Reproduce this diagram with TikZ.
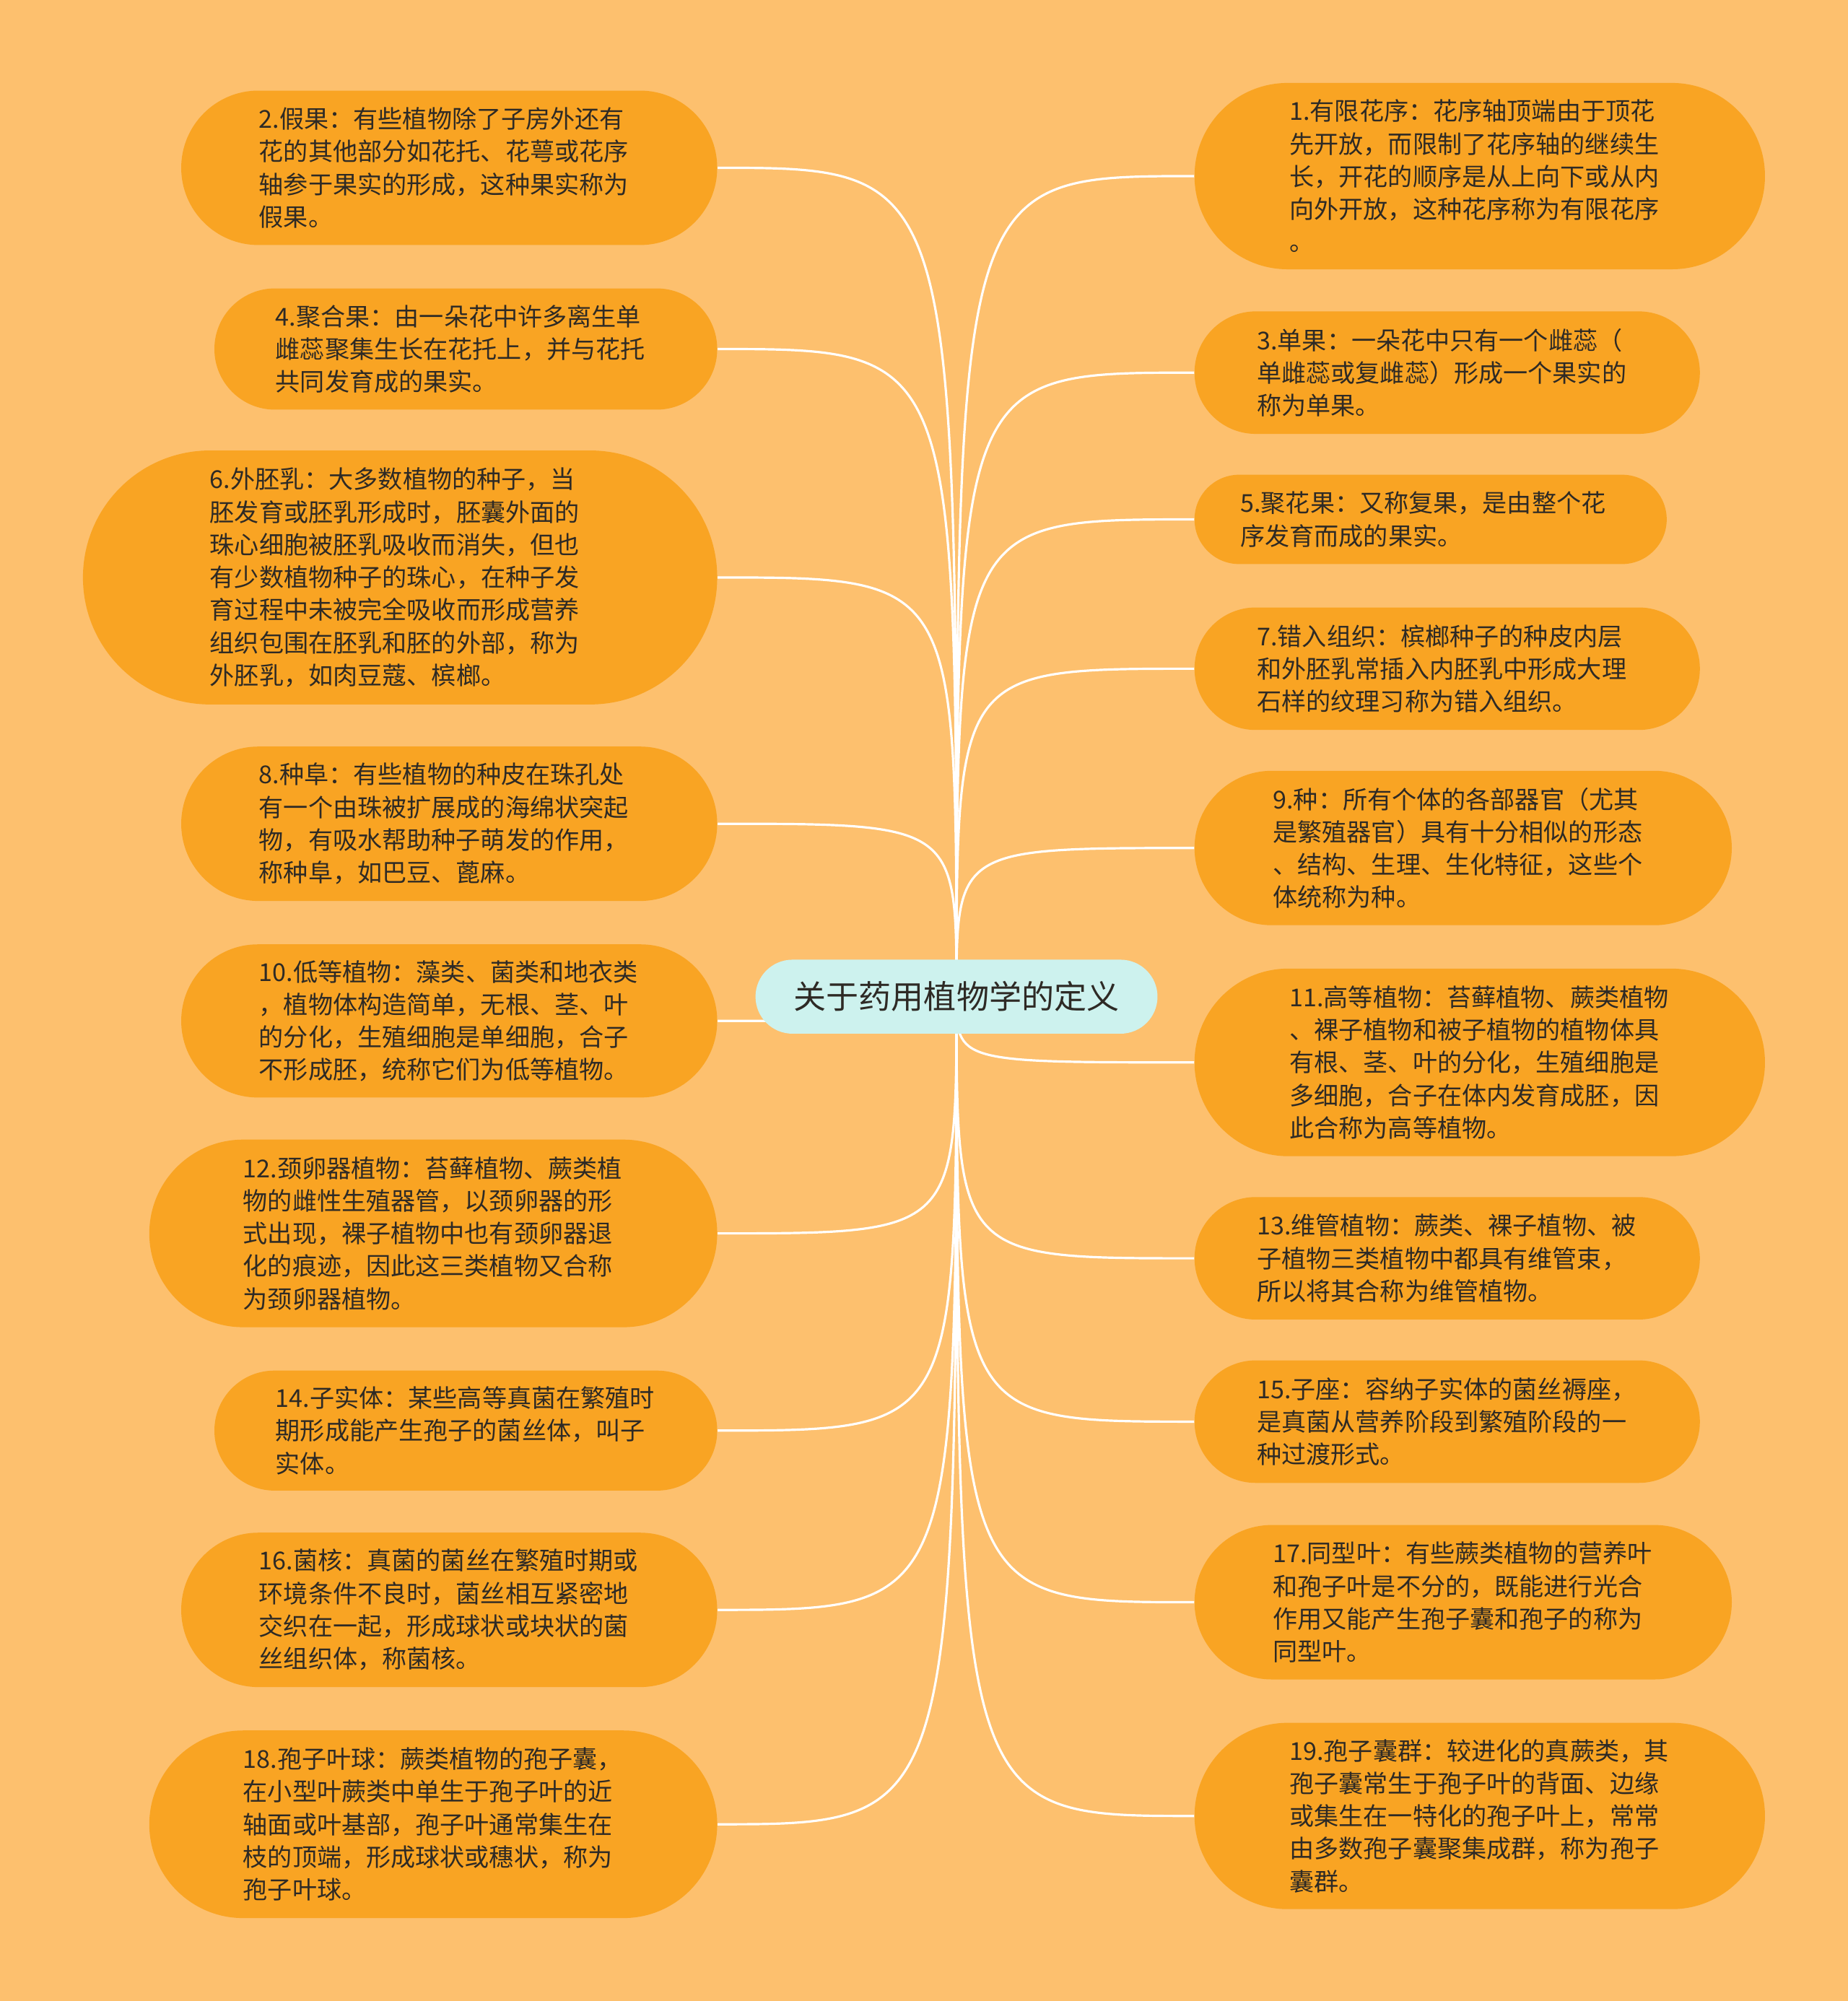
\documentclass[tikz,border=0pt]{standalone}
\usepackage{fontspec}
\newfontfamily\cjk{Noto Sans CJK SC}
\usepackage{tikz}
\usetikzlibrary{backgrounds}
\definecolor{bgc}{HTML}{FDC06E}
\definecolor{leafc}{HTML}{F9A423}
\definecolor{ctrc}{HTML}{CDF2EE}
\definecolor{txtc}{HTML}{2E2A25}

\tikzset{
    leaf/.style={fill=leafc, text=txtc, align=left, text width=298pt, inner sep=0pt,
        font=\cjk\fontsize{19.3}{25.6}\selectfont},
    root/.style={fill=ctrc, text=txtc, inner sep=0pt, rounded corners=29pt,
        minimum width=315pt, minimum height=58pt,
        font=\cjk\fontsize{25.5}{30}\selectfont},
    link/.style={draw=white, line width=1.8pt}
}

\begin{document}
\begin{tikzpicture}[x=1pt, y=-1pt]
    \useasboundingbox (0,0) rectangle (1448,1568);

    % Center
    \node[root] (ctr) at (749.5,781) {关于药用植物学的定义};

    % Left nodes
    \node[leaf, minimum width=420pt, minimum height=121pt, rounded corners=60.5pt] (n2) at (352,131.5)
        {2.假果：有些植物除了子房外还有\\花的其他部分如花托、花萼或花序\\轴参于果实的形成，这种果实称为\\假果。};
    \node[leaf, minimum width=394pt, minimum height=95pt, rounded corners=47.5pt] (n4) at (365,273.5)
        {4.聚合果：由一朵花中许多离生单\\雌蕊聚集生长在花托上，并与花托\\共同发育成的果实。};
    \node[leaf, minimum width=497pt, minimum height=199pt, rounded corners=99.5pt] (n6) at (313.5,452.5)
        {6.外胚乳：大多数植物的种子，当\\胚发育或胚乳形成时，胚囊外面的\\珠心细胞被胚乳吸收而消失，但也\\有少数植物种子的珠心，在种子发\\育过程中未被完全吸收而形成营养\\组织包围在胚乳和胚的外部，称为\\外胚乳，如肉豆蔻、槟榔。};
    \node[leaf, minimum width=420pt, minimum height=121pt, rounded corners=60.5pt] (n8) at (352,645.5)
        {8.种阜：有些植物的种皮在珠孔处\\有一个由珠被扩展成的海绵状突起\\物，有吸水帮助种子萌发的作用，\\称种阜，如巴豆、蓖麻。};
    \node[leaf, minimum width=420pt, minimum height=120pt, rounded corners=60pt] (n10) at (352,800)
        {10.低等植物：藻类、菌类和地衣类\\，植物体构造简单，无根、茎、叶\\的分化，生殖细胞是单细胞，合子\\不形成胚，统称它们为低等植物。};
    \node[leaf, minimum width=445pt, minimum height=147pt, rounded corners=73.5pt] (n12) at (339.5,966.5)
        {12.颈卵器植物：苔藓植物、蕨类植\\物的雌性生殖器管，以颈卵器的形\\式出现，裸子植物中也有颈卵器退\\化的痕迹，因此这三类植物又合称\\为颈卵器植物。};
    \node[leaf, minimum width=394pt, minimum height=94pt, rounded corners=47pt] (n14) at (365,1121)
        {14.子实体：某些高等真菌在繁殖时\\期形成能产生孢子的菌丝体，叫子\\实体。};
    \node[leaf, minimum width=420pt, minimum height=121pt, rounded corners=60.5pt] (n16) at (352,1261.5)
        {16.菌核：真菌的菌丝在繁殖时期或\\环境条件不良时，菌丝相互紧密地\\交织在一起，形成球状或块状的菌\\丝组织体，称菌核。};
    \node[leaf, minimum width=445pt, minimum height=147pt, rounded corners=73.5pt] (n18) at (339.5,1429.5)
        {18.孢子叶球：蕨类植物的孢子囊，\\在小型叶蕨类中单生于孢子叶的近\\轴面或叶基部，孢子叶通常集生在\\枝的顶端，形成球状或穗状，称为\\孢子叶球。};

    % Right nodes
    \node[leaf, minimum width=447pt, minimum height=146pt, rounded corners=73pt] (n1) at (1159.5,138)
        {1.有限花序：花序轴顶端由于顶花\\先开放，而限制了花序轴的继续生\\长，开花的顺序是从上向下或从内\\向外开放，这种花序称为有限花序\\。};
    \node[leaf, minimum width=396pt, minimum height=96pt, rounded corners=48pt] (n3) at (1134,292)
        {3.单果：一朵花中只有一个雌蕊（\\单雌蕊或复雌蕊）形成一个果实的\\称为单果。};
    \node[leaf, minimum width=370pt, minimum height=70pt, rounded corners=35pt] (n5) at (1121,407)
        {5.聚花果：又称复果，是由整个花\\序发育而成的果实。};
    \node[leaf, minimum width=396pt, minimum height=96pt, rounded corners=48pt] (n7) at (1134,524)
        {7.错入组织：槟榔种子的种皮内层\\和外胚乳常插入内胚乳中形成大理\\石样的纹理习称为错入组织。};
    \node[leaf, minimum width=421pt, minimum height=121pt, rounded corners=60.5pt] (n9) at (1146.5,664.5)
        {9.种：所有个体的各部器官（尤其\\是繁殖器官）具有十分相似的形态\\、结构、生理、生化特征，这些个\\体统称为种。};
    \node[leaf, minimum width=447pt, minimum height=147pt, rounded corners=73.5pt] (n11) at (1159.5,832.5)
        {11.高等植物：苔藓植物、蕨类植物\\、裸子植物和被子植物的植物体具\\有根、茎、叶的分化，生殖细胞是\\多细胞，合子在体内发育成胚，因\\此合称为高等植物。};
    \node[leaf, minimum width=396pt, minimum height=96pt, rounded corners=48pt] (n13) at (1134,986)
        {13.维管植物：蕨类、裸子植物、被\\子植物三类植物中都具有维管束，\\所以将其合称为维管植物。};
    \node[leaf, minimum width=396pt, minimum height=96pt, rounded corners=48pt] (n15) at (1134,1114)
        {15.子座：容纳子实体的菌丝褥座，\\是真菌从营养阶段到繁殖阶段的一\\种过渡形式。};
    \node[leaf, minimum width=421pt, minimum height=121pt, rounded corners=60.5pt] (n17) at (1146.5,1255.5)
        {17.同型叶：有些蕨类植物的营养叶\\和孢子叶是不分的，既能进行光合\\作用又能产生孢子囊和孢子的称为\\同型叶。};
    \node[leaf, minimum width=447pt, minimum height=146pt, rounded corners=73pt] (n19) at (1159.5,1423)
        {19.孢子囊群：较进化的真蕨类，其\\孢子囊常生于孢子叶的背面、边缘\\或集生在一特化的孢子叶上，常常\\由多数孢子囊聚集成群，称为孢子\\囊群。};

    % Connectors
    \begin{scope}[on background layer]
        \fill[bgc] (0,0) rectangle (1448,1568);
        \foreach \n in {2,4,6,8,10,12,14,16,18}
            \draw[link] (ctr.center) .. controls (ctr.center |- n\n.east) .. (n\n.east);
        \foreach \n in {1,3,5,7,9,11,13,15,17,19}
            \draw[link] (ctr.center) .. controls (ctr.center |- n\n.west) .. (n\n.west);
    \end{scope}
\end{tikzpicture}
\end{document}
